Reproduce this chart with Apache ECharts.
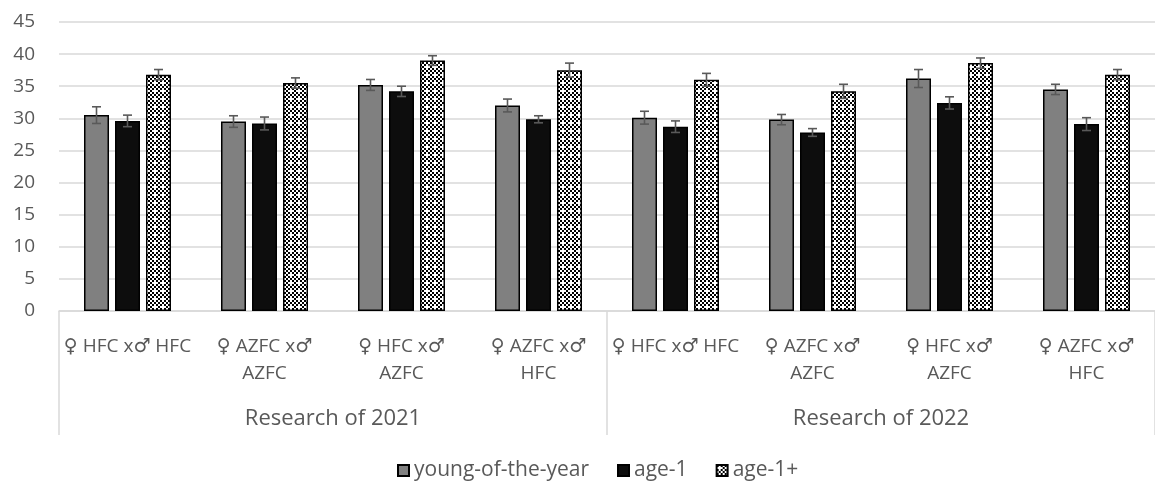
<!DOCTYPE html>
<html>
<head>
<meta charset="utf-8">
<script src="https://cdn.jsdelivr.net/npm/echarts@6/dist/echarts.min.js"></script>
<style>
  html, body { margin: 0; padding: 0; background: #fff; }
  #chart { width: 1155px; height: 484px; }
</style>
</head>
<body>
<div id="chart"></div>
<script>
// crosses, in 2021 and 2022
const categories = [
  '♀ HFC x♂ HFC', '♀ AZFC x♂\nAZFC', '♀ HFC x♂\nAZFC', '♀ AZFC x♂\nHFC',
  '♀ HFC x♂ HFC', '♀ AZFC x♂\nAZFC', '♀ HFC x♂\nAZFC', '♀ AZFC x♂\nHFC'
];
const groups = ['Research of 2021', 'Research of 2022'];
const yTicks = [0, 45, 5]; // min, max, step

const youngVals = [30.5, 29.5, 35.2, 32.0, 30.1, 29.8, 36.2, 34.5];
const youngErr  = [1.3, 0.9, 0.85, 1.0, 1.0, 0.8, 1.4, 0.8];
const age1Vals  = [29.6, 29.2, 34.2, 29.85, 28.7, 27.8, 32.4, 29.1];
const age1Err   = [0.9, 1.0, 0.8, 0.55, 0.9, 0.6, 0.95, 1.0];
const age1pVals = [36.8, 35.5, 39.0, 37.5, 36.0, 34.2, 38.6, 36.8];
const age1pErr  = [0.8, 0.8, 0.75, 1.1, 1.0, 1.1, 0.8, 0.8];

const textColor = '#595959';
const lineColor = '#d9d9d9';
const font = '"Open Sans", "DejaVu Sans", sans-serif';
const BAR_W = 25;
const BAR_GAP = 0.24;

// checker pattern for age-1+
function makePattern() {
  const c = document.createElement('canvas');
  c.width = 8; c.height = 8;
  const ctx = c.getContext('2d');
  ctx.fillStyle = '#fff';
  ctx.fillRect(0, 0, 8, 8);
  ctx.fillStyle = '#000';
  for (let y = 0; y < 8; y += 2) {
    for (let x = 0; x < 8; x += 2) {
      if (((x + y) / 2) % 2 === 0) ctx.fillRect(x, y, 2, 2);
    }
  }
  ctx.fillStyle = '#fff';
  ctx.fillRect(2, 1, 2, 4);
  ctx.fillRect(1, 2, 4, 2);
  return c;
}

function errSeries(vals, errs, idx) {
  return {
    type: 'custom',
    z: 5,
    silent: true,
    data: vals.map((v, i) => [i, v - errs[i], v + errs[i]]),
    renderItem: function (params, api) {
      const lo = api.coord([api.value(0), api.value(1)]);
      const hi = api.coord([api.value(0), api.value(2)]);
      const x = lo[0] + (idx - 1) * BAR_W * (1 + BAR_GAP);
      const cap = 4.5;
      const style = { stroke: '#595959', lineWidth: 1.6 };
      return {
        type: 'group',
        children: [
          { type: 'line', shape: { x1: x, y1: lo[1], x2: x, y2: hi[1] }, style },
          { type: 'line', shape: { x1: x - cap, y1: lo[1], x2: x + cap, y2: lo[1] }, style },
          { type: 'line', shape: { x1: x - cap, y1: hi[1], x2: x + cap, y2: hi[1] }, style }
        ]
      };
    }
  };
}

const chart = echarts.init(document.getElementById('chart'));
const barBase = { type: 'bar', barWidth: BAR_W, barGap: (BAR_GAP * 100) + '%' };

chart.setOption({
  animation: false,
  textStyle: { fontFamily: font },
  grid: { left: 59, top: 22, width: 1105, height: 289 },
  legend: {
    data: ['young-of-the-year', 'age-1', 'age-1+'],
    top: 455,
    left: 392,
    itemWidth: 11,
    itemHeight: 11,
    itemGap: 28,
    icon: 'rect',
    textStyle: { fontSize: 21, color: textColor, fontFamily: font }
  },
  xAxis: [
    {
      type: 'category',
      data: categories,
      axisLine: { lineStyle: { color: lineColor, width: 1.5 } },
      axisTick: { show: false },
      axisLabel: {
        interval: 0,
        margin: 22,
        fontSize: 19,
        lineHeight: 27,
        color: textColor,
        fontFamily: font
      }
    },
    {
      type: 'category',
      data: groups,
      position: 'bottom',
      axisLine: { show: false },
      axisTick: { show: true, length: 124, lineStyle: { color: lineColor, width: 1.5 } },
      axisLabel: { margin: 97, fontSize: 22, color: textColor, fontFamily: font }
    }
  ],
  yAxis: {
    type: 'value',
    min: yTicks[0],
    max: yTicks[1],
    interval: yTicks[2],
    axisLine: { show: false },
    axisTick: { show: false },
    axisLabel: { fontSize: 19, color: textColor, margin: 24, fontFamily: font },
    splitLine: { lineStyle: { color: lineColor, width: 1.5 } }
  },
  series: [
    Object.assign({}, barBase, {
      name: 'young-of-the-year', data: youngVals,
      itemStyle: { color: '#808080', borderColor: '#000', borderWidth: 1.5 }
    }),
    Object.assign({}, barBase, {
      name: 'age-1', data: age1Vals,
      itemStyle: { color: '#0d0d0d', borderColor: '#000', borderWidth: 1.5 }
    }),
    Object.assign({}, barBase, {
      name: 'age-1+', data: age1pVals,
      itemStyle: { color: { image: makePattern(), repeat: 'repeat' }, borderColor: '#000', borderWidth: 1.5 }
    }),
    errSeries(youngVals, youngErr, 0),
    errSeries(age1Vals, age1Err, 1),
    errSeries(age1pVals, age1pErr, 2)
  ]
});
</script>
</body>
</html>
